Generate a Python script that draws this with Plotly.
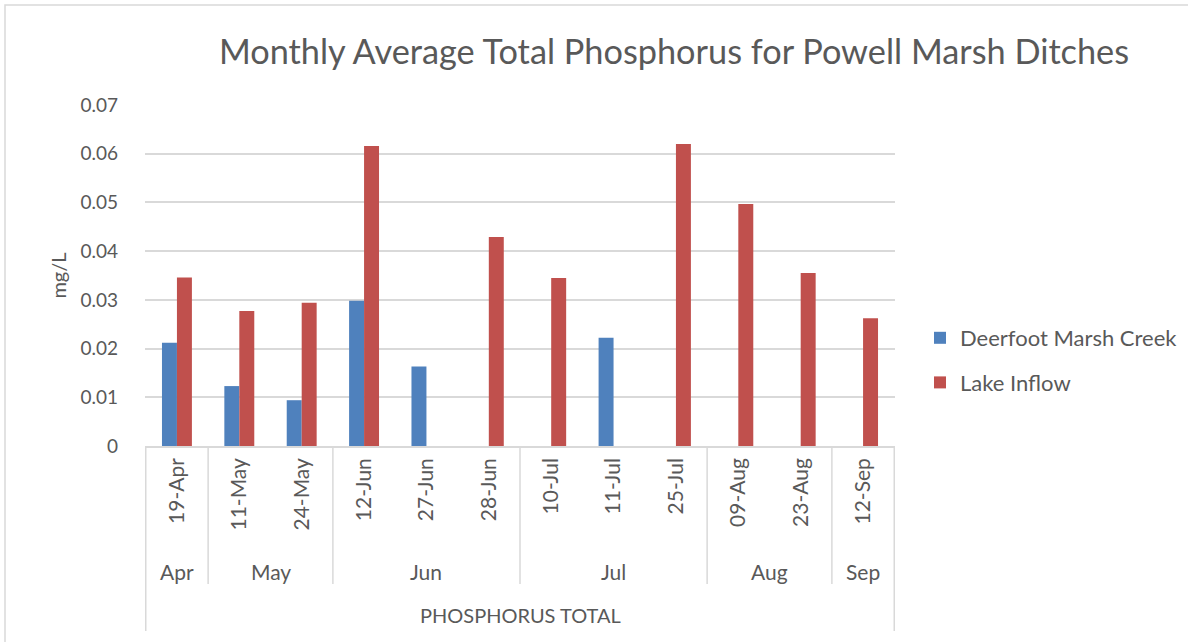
import plotly.graph_objects as go

dates = ["19-Apr", "11-May", "24-May", "12-Jun", "27-Jun", "28-Jun",
         "10-Jul", "11-Jul", "25-Jul", "09-Aug", "23-Aug", "12-Sep"]
months = ["Apr", "May", "May", "Jun", "Jun", "Jun",
          "Jul", "Jul", "Jul", "Aug", "Aug", "Sep"]
deerfoot = [0.0212, 0.0123, 0.0094, 0.0298, 0.0163, None,
            None, 0.0222, None, None, None, None]
lake_inflow = [0.0346, 0.0277, 0.0294, 0.0616, None, 0.0429,
               0.0345, None, 0.0620, 0.0497, 0.0355, 0.0262]
group_label = "PHOSPHORUS TOTAL"

W, H = 1188, 642
L, R, T, B = 145, 895, 105, 446
FONT = "Lato"
TXT = "#595959"
GRID = "#d9d9d9"


def px_x(px):
    return (px - L) / (R - L)


def px_y(py):
    return (B - py) / (B - T)


fig = go.Figure()
fig.add_trace(go.Bar(x=dates, y=deerfoot, name="Deerfoot Marsh Creek",
                     marker=dict(color="#4F81BD", line=dict(width=0)),
                     legendgroup="a"))
fig.add_trace(go.Bar(x=dates, y=lake_inflow, name="Lake Inflow",
                     marker=dict(color="#C0504D", line=dict(width=0)),
                     legendgroup="b"))

shapes = []
annotations = []

# month group separators and labels
bounds = [0]
for i in range(1, len(months)):
    if months[i] != months[i - 1]:
        bounds.append(i)
bounds.append(len(months))
for k, b in enumerate(bounds):
    outer = k == 0 or k == len(bounds) - 1
    shapes.append(dict(type="line", xref="x", yref="paper",
                       x0=b - 0.5, x1=b - 0.5, y0=0,
                       y1=px_y(631 if outer else 584),
                       line=dict(color=GRID, width=1.5)))
for k in range(len(bounds) - 1):
    s, e = bounds[k], bounds[k + 1]
    annotations.append(dict(x=(s + e - 1) / 2, xref="x", y=px_y(571), yref="paper",
                            text=months[s], showarrow=False,
                            font=dict(family=FONT, size=21, color=TXT),
                            xanchor="center", yanchor="middle"))
annotations.append(dict(x=(len(dates) - 1) / 2, xref="x", y=px_y(615), yref="paper",
                        text=group_label, showarrow=False,
                        font=dict(family=FONT, size=20, color=TXT),
                        xanchor="center", yanchor="middle"))

# chart border
shapes.append(dict(type="rect", xref="paper", yref="paper",
                   x0=px_x(5), x1=px_x(W + 50), y0=px_y(H + 50), y1=px_y(5),
                   line=dict(color=GRID, width=1.5), layer="below"))

fig.update_layout(
    width=W, height=H,
    margin=dict(l=L, r=W - R, t=T, b=H - B, autoexpand=False),
    paper_bgcolor="white", plot_bgcolor="white",
    barmode="group", bargap=0.52, bargroupgap=0,
    title=dict(text="Monthly Average Total Phosphorus for Powell Marsh Ditches",
               x=674 / W, xanchor="center",
               y=1 - 52 / H, yanchor="middle",
               font=dict(family=FONT, size=34.3, color=TXT)),
    font=dict(family=FONT, color=TXT),
    xaxis=dict(type="category", tickangle=-90, ticks="",
               tickfont=dict(family=FONT, size=21, color=TXT),
               showline=True, linecolor=GRID, linewidth=1.5,
               showgrid=False, ticklabelstandoff=2),
    yaxis=dict(range=[0, 0.07], dtick=0.01, tickformat="~g",
               showgrid=True, gridcolor=GRID, gridwidth=1.5,
               zeroline=False, showline=False, ticks="",
               ticklabelstandoff=26,
               tickfont=dict(family=FONT, size=19, color=TXT),
               title=dict(text="mg/L", standoff=8,
                          font=dict(family=FONT, size=20, color=TXT))),
    legend=dict(x=px_x(920), xanchor="left", y=px_y(317), yanchor="top",
                font=dict(family=FONT, size=22, color=TXT),
                traceorder="grouped", tracegroupgap=13,
                bgcolor="rgba(0,0,0,0)"),
    shapes=shapes,
    annotations=annotations,
)

fig.write_html("out.html",
               config={"displayModeBar": False},
               post_script="document.body.style.margin='0px';")
